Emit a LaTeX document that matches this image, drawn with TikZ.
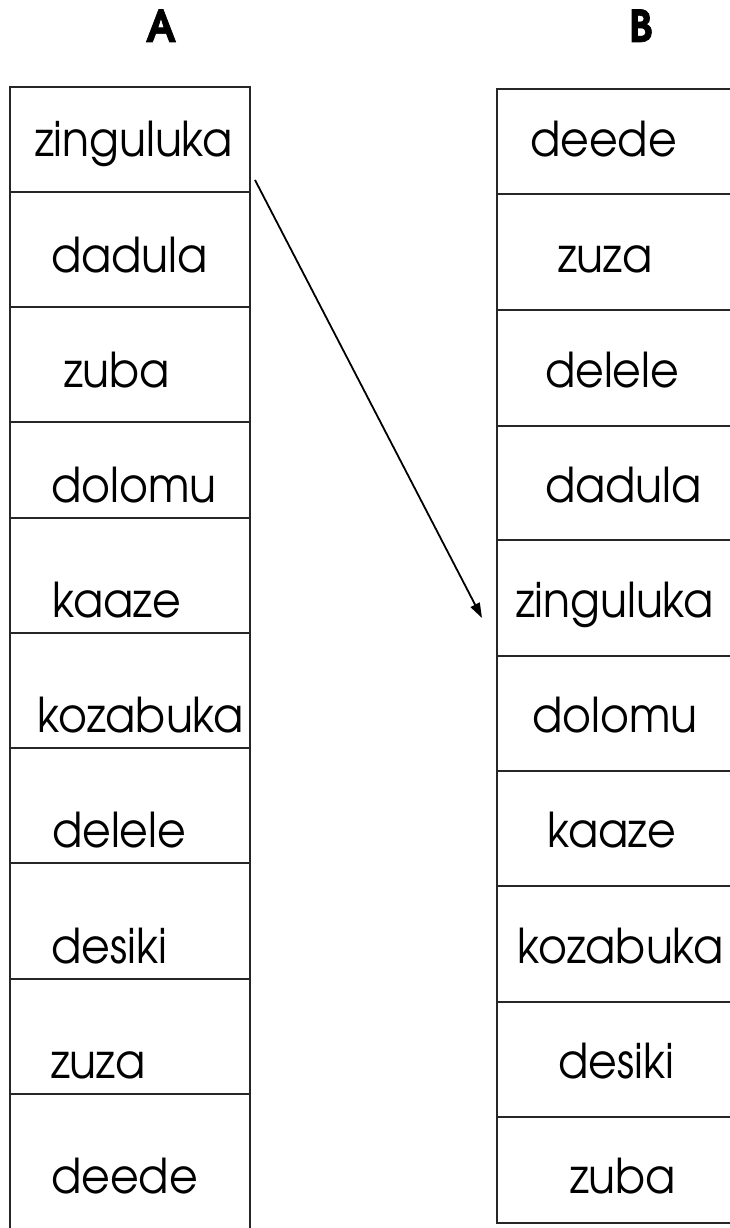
\documentclass[tikz,border=0pt]{standalone}
\usepackage{fontspec}
\setmainfont{texgyreadventor-regular.otf}[BoldFont=texgyreadventor-bold.otf]
\newfontfamily\wordfont{texgyreadventor-regular.otf}[FakeStretch=0.92]
\newfontfamily\titlefont{texgyreadventor-bold.otf}[FakeStretch=0.92,FakeBold=1.5]
\usetikzlibrary{arrows.meta}
\begin{document}
\begin{tikzpicture}[x=1pt,y=-1pt,
  cellA/.style={draw=black!85,line width=2pt,minimum width=240pt,inner sep=0pt,outer sep=0pt},
  cellB/.style={draw=black!85,line width=2pt,minimum width=238pt,inner sep=0pt,outer sep=0pt},
  word/.style={anchor=base west,inner sep=0pt,font=\wordfont\fontsize{48}{48}\selectfont},
  title/.style={anchor=base,inner sep=0pt,font=\titlefont\fontsize{44}{44}\selectfont}]
\useasboundingbox (0,0) rectangle (729,1228);
% titles
\node[title] (tA) at (161,42) {A};
\node[title] (tB) at (641,42) {B};
% column A cells
\node[cellA,minimum height=105pt] (a1) at (130,139.5) {};
\node[cellA,minimum height=115pt] (a2) at (130,249.5) {};
\node[cellA,minimum height=115pt] (a3) at (130,364.5) {};
\node[cellA,minimum height=96pt] (a4) at (130,470) {};
\node[cellA,minimum height=115pt] (a5) at (130,575.5) {};
\node[cellA,minimum height=115pt] (a6) at (130,690.5) {};
\node[cellA,minimum height=115pt] (a7) at (130,805.5) {};
\node[cellA,minimum height=116pt] (a8) at (130,921) {};
\node[cellA,minimum height=115pt] (a9) at (130,1036.5) {};
\node[cellA,minimum height=146pt] (a10) at (130,1167) {};
% column B cells
\node[cellB,minimum height=105pt] (b1) at (616,141.5) {};
\node[cellB,minimum height=116pt] (b2) at (616,252) {};
\node[cellB,minimum height=116pt] (b3) at (616,368) {};
\node[cellB,minimum height=114pt] (b4) at (616,483) {};
\node[cellB,minimum height=116pt] (b5) at (616,598) {};
\node[cellB,minimum height=115pt] (b6) at (616,713.5) {};
\node[cellB,minimum height=115pt] (b7) at (616,828.5) {};
\node[cellB,minimum height=116pt] (b8) at (616,944) {};
\node[cellB,minimum height=115pt] (b9) at (616,1059.5) {};
\node[cellB,minimum height=106pt] (b10) at (616,1170) {};
% column A words
\node[word] (wa1) at (35,157) {zinguluka};
\node[word] (wa2) at (51,272) {dadula};
\node[word] (wa3) at (64,387) {zuba};
\node[word] (wa4) at (51,502) {dolomu};
\node[word] (wa5) at (52,617) {kaaze};
\node[word] (wa6) at (37,732) {kozabuka};
\node[word] (wa7) at (52,847) {delele};
\node[word] (wa8) at (51,963) {desiki};
\node[word] (wa9) at (51,1078) {zuza};
\node[word] (wa10) at (51,1193) {deede};
% column B words
\node[word] (wb1) at (530,157) {deede};
\node[word] (wb2) at (558,272) {zuza};
\node[word] (wb3) at (545,387) {delele};
\node[word] (wb4) at (545,502) {dadula};
\node[word] (wb5) at (516,617) {zinguluka};
\node[word] (wb6) at (532,732) {dolomu};
\node[word] (wb7) at (547,847) {kaaze};
\node[word] (wb8) at (517,963) {kozabuka};
\node[word] (wb9) at (558,1078) {desiki};
\node[word] (wb10) at (570,1193) {zuba};
% arrow
\coordinate (s) at (255,180);
\coordinate (e) at (482,618);
\draw[line width=1.8pt,-{Triangle[length=15pt,width=10pt]}] (s) -- (e);
\end{tikzpicture}
\end{document}
